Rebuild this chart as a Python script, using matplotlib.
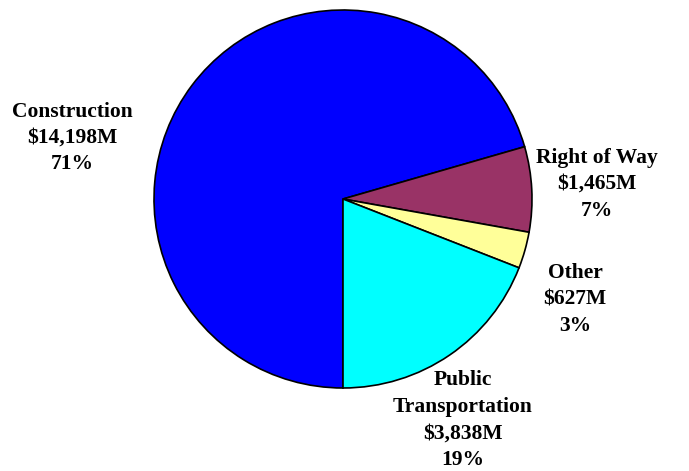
import matplotlib
matplotlib.use("Agg")
import matplotlib.pyplot as plt

categories = ["Construction", "Right of Way", "Other", "Public\nTransportation"]
values = [14198, 1465, 627, 3838]
colors = ["#0000FF", "#993366", "#FFFF99", "#00FFFF"]
label_pos = [(-1.434, 0.323), (1.344, 0.079), (1.228, -0.534), (0.635, -1.169)]

fig = plt.figure(figsize=(6.89, 4.71), dpi=100)
ax = fig.add_axes([0, 0, 1, 1])
ax.pie(values, colors=colors, startangle=270, counterclock=False, radius=1,
       wedgeprops=dict(edgecolor="black", linewidth=1.2))
ax.set_xlim(-343/189, (689-343)/189)
ax.set_ylim(-272/189, (471-272)/189)
ax.set_aspect("auto")
ax.axis("off")

total = sum(values)
for cat, v, (x, y) in zip(categories, values, label_pos):
    txt = f"{cat}\n${v:,}M\n{round(100*v/total)}%"
    ax.text(x, y, txt, ha="center", va="center", family="Liberation Serif",
            fontweight="bold", fontsize=15.5, linespacing=1.43)

fig.savefig("out.png", dpi=100)
